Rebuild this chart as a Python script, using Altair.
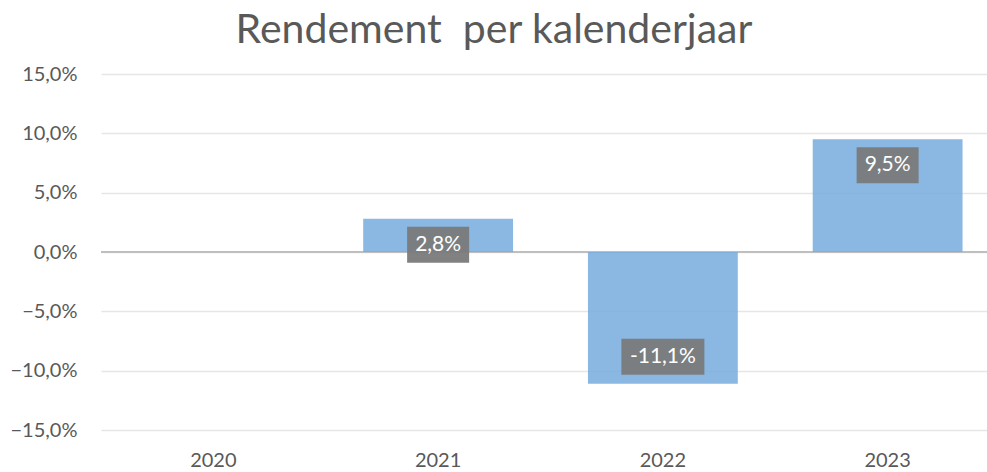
import altair as alt
import pandas as pd

years = ["2020", "2021", "2022", "2023"]
returns = [None, 2.8, -11.1, 9.5]
labels = ["", "2,8%", "-11,1%", "9,5%"]
y_ticks = [-15, -10, -5, 0, 5, 10, 15]

FONT = "Lato"
GREY = "#595959"

df = pd.DataFrame({"year": years, "value": returns, "label": labels})
bars_df = df.dropna()

x_enc = alt.X(
    "year:N",
    scale=alt.Scale(domain=years, paddingInner=1 / 3, paddingOuter=1 / 6, range=[0, 899]),
    axis=alt.Axis(title=None, labelAngle=0, domain=False, ticks=False, grid=False,
                  labelFont=FONT, labelFontSize=20, labelColor=GREY, labelPadding=20),
)
y_axis = alt.Axis(values=y_ticks, title=None, domain=False, ticks=False, grid=True,
                  gridColor="#e6e6e6", gridWidth=1.5,
                  labelExpr="replace(format(datum.value, '.1f'), '.', ',') + '%'",
                  labelFont=FONT, labelFontSize=20, labelColor=GREY, labelPadding=24)
y_scale = alt.Scale(domain=[-15, 15], nice=False, zero=False)
y_enc = alt.Y("value:Q", scale=y_scale, axis=y_axis)

base = alt.Chart(bars_df)

zero = alt.Chart(df).mark_rule(color="#bfbfbf", strokeWidth=2).encode(
    y=alt.Y(datum=0, scale=y_scale, axis=y_axis)
)

bars = base.mark_bar(color="#76abdd", opacity=0.85).encode(x=x_enc, y=y_enc)


def label_layer(cond, off):
    src = base.transform_filter(cond).transform_calculate(
        w="10.5*length(datum.label)+20",
    ).transform_calculate(
        shp="'M-1,' + (-36/datum.w) + 'L1,' + (-36/datum.w) + 'L1,' + (36/datum.w) + 'L-1,' + (36/datum.w) + 'Z'",
        sz="datum.w*datum.w",
    )
    box = src.mark_point(filled=True, color="#7a7a7a", opacity=0.95, strokeWidth=0, yOffset=off).encode(
        x=x_enc, y=y_enc,
        shape=alt.Shape("shp:N", scale=None),
        size=alt.Size("sz:Q", scale=None),
    )
    txt = src.mark_text(color="white", font=FONT, fontSize=21, baseline="middle", yOffset=off).encode(
        x=x_enc, y=y_enc, text="label:N"
    )
    return box + txt


pos = label_layer("datum.value >= 0", 26)
neg = label_layer("datum.value < 0", -27)

chart = alt.layer(zero, bars, pos, neg).properties(
    width=886,
    height=356,
    background="white",
    title=alt.TitleParams("Rendement\u00a0 per kalenderjaar", font=FONT, fontSize=41, color=GREY,
                          fontWeight="normal", anchor="middle", dx=-50, offset=12),
    autosize=alt.AutoSizeParams(type="none"),
    padding={"left": 101, "top": 74, "right": 0, "bottom": 42},
).configure_view(stroke="transparent", strokeWidth=0).configure_axis(domain=False, ticks=False)

chart.save("out.html", embed_options={"renderer": "svg", "actions": False})
